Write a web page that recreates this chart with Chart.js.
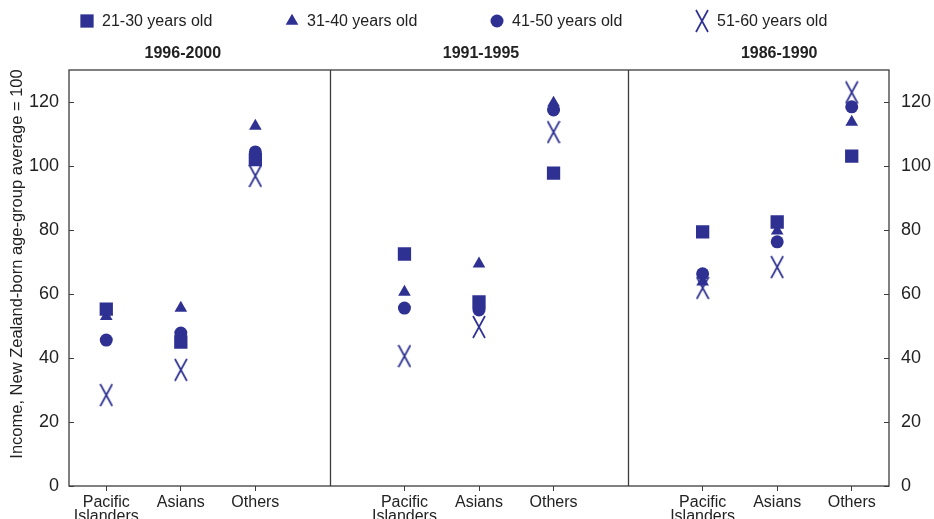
<!DOCTYPE html>
<html>
<head>
<meta charset="utf-8">
<script src="https://cdn.jsdelivr.net/npm/chart.js@4/dist/chart.umd.min.js"></script>
<style>
  html, body { margin: 0; padding: 0; background: #fff; }
  #wrap { width: 934px; height: 519px; }
</style>
</head>
<body>
<div id="wrap"><canvas id="chart" width="934" height="519"></canvas></div>
<script>
// Data (index: New Zealand-born age-group average = 100)
const periods = ['1996-2000', '1991-1995', '1986-1990'];
const categories = ['Pacific Islanders', 'Asians', 'Others'];
const seriesNames = ['21-30 years old', '31-40 years old', '41-50 years old', '51-60 years old'];

// each: [1996-2000 x3, 1991-1995 x3, 1986-1990 x3]
const age21to30 = [55.3, 45.0, 102.0, 72.5, 57.5, 97.8, 79.4, 82.5, 103.1];
const age31to40 = [53.0, 55.6, 112.5, 60.6, 69.4, 119.7, 63.8, 79.7, 113.7];
const age41to50 = [45.6, 47.8, 104.4, 55.6, 55.0, 117.5, 66.3, 76.3, 118.5];
const age51to60 = [28.4, 36.3, 96.9, 40.6, 49.7, 110.6, 61.9, 68.4, 123.0];

const yTicks = [0, 20, 40, 60, 80, 100, 120];

const MARK = '#2e3192';
const INK = '#222';
const FRAME = '#3c3c3c';
const FONT = "'Liberation Sans', Arial, sans-serif";

// one empty slot between panels so they sit on one category axis
const labels = [];
periods.forEach((p, pi) => {
  categories.forEach(c => labels.push(c.split(' ')));
  if (pi < periods.length - 1) labels.push('');
});

function spread(values) {
  const out = [];
  periods.forEach((p, pi) => {
    for (let ci = 0; ci < categories.length; ci++) out.push(values[pi * categories.length + ci]);
    if (pi < periods.length - 1) out.push(null);
  });
  return out;
}

// tall thin X used for the oldest group
function makeCross() {
  const c = document.createElement('canvas');
  c.width = 14;
  c.height = 24;
  const g = c.getContext('2d');
  g.strokeStyle = MARK;
  g.lineWidth = 1.7;
  g.beginPath();
  g.moveTo(1, 1); g.lineTo(13, 23);
  g.moveTo(13, 1); g.lineTo(1, 23);
  g.stroke();
  return c;
}
const crossImg = makeCross();

const styles = [
  { pointStyle: 'rect', radius: 9.4 },
  { pointStyle: 'triangle', radius: 7.3 },
  { pointStyle: 'circle', radius: 6.5 },
  { pointStyle: crossImg, radius: 7 },
];
const seriesValues = [age21to30, age31to40, age41to50, age51to60];

const datasets = seriesNames.map((name, i) => ({
  label: name,
  data: spread(seriesValues[i]),
  showLine: false,
  pointStyle: styles[i].pointStyle,
  pointRadius: styles[i].radius,
  pointHoverRadius: styles[i].radius,
  pointBackgroundColor: MARK,
  pointBorderColor: MARK,
  pointBorderWidth: 0,
  backgroundColor: MARK,
  borderColor: MARK,
}));

const isBlank = i => labels[i] === '';

// frame, panel dividers, inward y ticks, titles and legend
const decorPlugin = {
  id: 'decor',
  afterDraw(chart) {
    const { ctx, chartArea: a, scales } = chart;
    const x = scales.x, y = scales.y;
    ctx.save();

    ctx.strokeStyle = FRAME;
    ctx.lineWidth = 1.3;
    ctx.strokeRect(a.left, a.top, a.right - a.left, a.bottom - a.top);

    labels.forEach((l, i) => {
      if (!isBlank(i)) return;
      const px = Math.round(x.getPixelForTick(i)) + 0.5;
      ctx.beginPath();
      ctx.moveTo(px, a.top);
      ctx.lineTo(px, a.bottom);
      ctx.stroke();
    });

    ctx.lineWidth = 1;
    yTicks.forEach(v => {
      const py = Math.round(y.getPixelForValue(v)) + 0.5;
      ctx.beginPath();
      ctx.moveTo(a.left, py); ctx.lineTo(a.left + 5, py);
      ctx.moveTo(a.right, py); ctx.lineTo(a.right - 5, py);
      ctx.stroke();
    });

    // panel titles over the middle category
    ctx.fillStyle = INK;
    ctx.font = 'bold 16px ' + FONT;
    ctx.textAlign = 'center';
    ctx.textBaseline = 'middle';
    periods.forEach((p, pi) => {
      const idx = pi * (categories.length + 1) + 1;
      ctx.fillText(p, x.getPixelForTick(idx) + 2, 54);
    });

    // y axis title
    ctx.save();
    ctx.translate(17, 264);
    ctx.rotate(-Math.PI / 2);
    ctx.font = '16.5px ' + FONT;
    ctx.fillText('Income, New Zealand-born age-group average = 100', 0, 0);
    ctx.restore();

    // legend
    ctx.font = '16px ' + FONT;
    ctx.textAlign = 'left';
    chart.data.datasets.forEach((ds, i) => {
      const left = 80 + i * 205;
      ctx.fillStyle = MARK;
      ctx.strokeStyle = MARK;
      Chart.helpers.drawPoint(ctx, {
        pointStyle: ds.pointStyle,
        radius: ds.pointRadius,
        rotation: 0,
        borderWidth: 0,
      }, left + 7, 21);
      ctx.fillStyle = INK;
      ctx.fillText(ds.label, left + 22, 22);
    });

    ctx.restore();
  },
};

const yCommon = {
  min: 0,
  max: 130,
  afterBuildTicks: s => { s.ticks = yTicks.map(v => ({ value: v })); },
  grid: { drawOnChartArea: false, drawTicks: false },
  border: { display: false },
};

new Chart(document.getElementById('chart'), {
  type: 'line',
  data: { labels, datasets },
  plugins: [decorPlugin],
  options: {
    responsive: false,
    animation: false,
    layout: { padding: { top: 70, left: 0, right: 0, bottom: 0 } },
    plugins: {
      legend: { display: false },
      tooltip: { enabled: false },
    },
    scales: {
      x: {
        type: 'category',
        offset: true,
        grid: {
          drawOnChartArea: false,
          tickLength: 5,
          lineWidth: 1,
          color: c => (c.index !== undefined && isBlank(c.index)) ? 'rgba(0,0,0,0)' : FRAME,
        },
        border: { display: false },
        ticks: {
          autoSkip: false,
          maxRotation: 0,
          padding: 5,
          color: INK,
          font: { family: FONT, size: 16, lineHeight: 0.85 },
        },
        afterFit: s => { s.height = 33; },
      },
      y: {
        ...yCommon,
        position: 'left',
        ticks: { padding: 10, color: INK, font: { family: FONT, size: 18 } },
        afterFit: s => { s.width = 69; },
      },
      y2: {
        ...yCommon,
        position: 'right',
        ticks: { padding: 12, color: INK, font: { family: FONT, size: 18 } },
        afterFit: s => { s.width = 45; },
      },
    },
  },
});
</script>
</body>
</html>
